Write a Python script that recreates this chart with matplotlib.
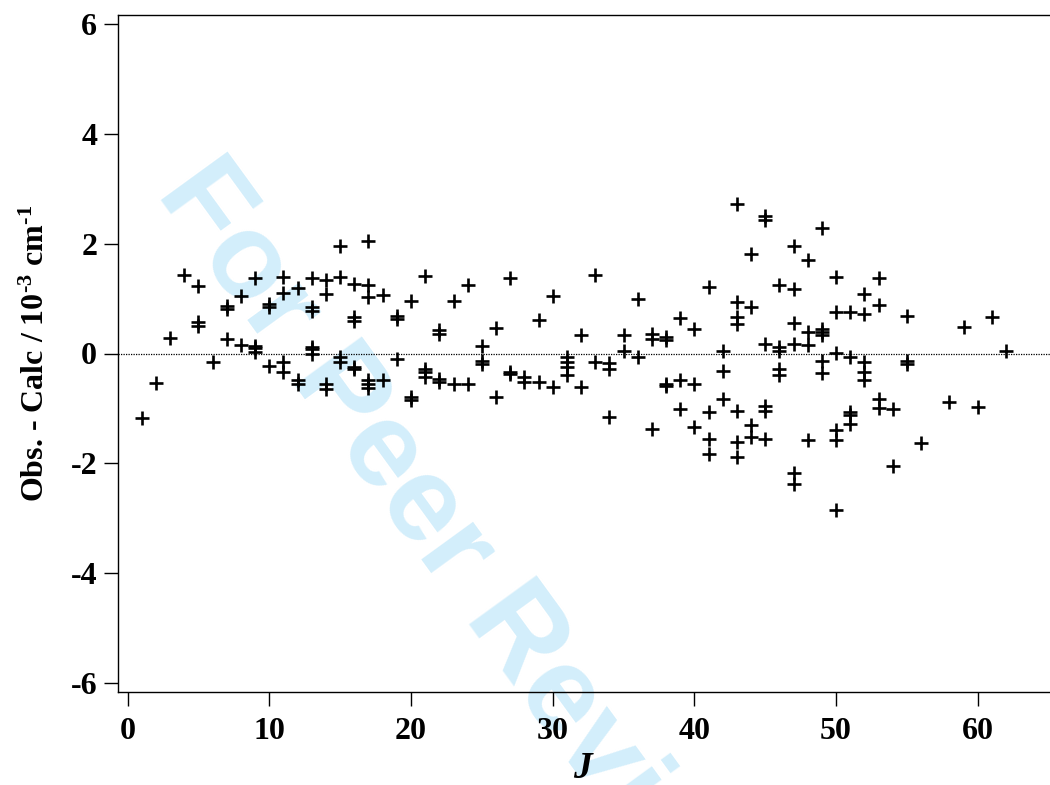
import matplotlib
matplotlib.use("Agg")
import matplotlib.pyplot as plt

# Observed - calculated residuals (10^-3 cm^-1) grouped by J
J_values = [
    1, 2, 3, 4, 5, 5, 5, 6, 7, 7, 7, 8, 8, 9, 9, 9, 9,
    10, 10, 10, 11, 11, 11, 11, 12, 12, 12, 13, 13, 13, 13, 13, 13,
    14, 14, 14, 14, 15, 15, 15, 15, 16, 16, 16, 16, 16,
    17, 17, 17, 17, 17, 17, 18, 18, 19, 19, 19, 20, 20, 20,
    21, 21, 21, 21, 22, 22, 22, 22, 23, 23, 24, 24, 25, 25, 25,
    26, 26, 27, 27, 27, 28, 28, 29, 29, 30, 30, 31, 31, 31, 31,
    32, 32, 33, 33, 34, 34, 34, 35, 35, 36, 36, 37, 37, 37,
    38, 38, 38, 38, 39, 39, 39, 40, 40, 40, 41, 41, 41, 41,
    42, 42, 42, 43, 43, 43, 43, 43, 43, 43, 44, 44, 44, 44,
    45, 45, 45, 45, 45, 45, 46, 46, 46, 46, 46,
    47, 47, 47, 47, 47, 47, 48, 48, 48, 48,
    49, 49, 49, 49, 49, 49, 50, 50, 50, 50, 50, 50,
    51, 51, 51, 51, 51, 52, 52, 52, 52, 52, 53, 53, 53, 53,
    54, 54, 55, 55, 55, 56, 58, 59, 60, 61, 62,
]
residuals = [
    -1.17, -0.53, 0.29, 1.42, 1.22, 0.57, 0.50, -0.15, 0.87, 0.81, 0.27, 1.05, 0.16, 1.37, 0.13, 0.02, 0.10,
    0.90, 0.85, -0.22, 1.39, 1.11, -0.16, -0.34, 1.19, -0.49, -0.55, 1.38, 0.84, 0.78, 0.08, -0.01, 0.12,
    1.33, 1.09, -0.55, -0.64, 1.96, 1.40, -0.07, -0.16, 1.27, 0.66, 0.60, -0.25, -0.28,
    2.05, 1.24, 1.02, -0.49, -0.55, -0.62, 1.07, -0.48, 0.69, 0.63, -0.10, 0.95, -0.79, -0.85,
    1.41, -0.28, -0.34, -0.43, 0.42, 0.36, -0.46, -0.52, 0.96, -0.55, 1.24, -0.55, 0.13, -0.13, -0.19,
    0.46, -0.79, 1.37, -0.34, -0.37, -0.43, -0.52, 0.61, -0.52, 1.04, -0.61, -0.07, -0.16, -0.25, -0.40,
    0.33, -0.61, 1.43, -0.16, -0.18, -0.28, -1.16, 0.34, 0.05, 0.99, -0.07, 0.36, 0.27, -1.37,
    0.30, 0.25, -0.55, -0.60, 0.64, -0.49, -1.01, 0.45, -0.56, -1.34, 1.21, -1.07, -1.55, -1.82,
    0.05, -0.31, -0.82, 2.72, 0.93, 0.66, 0.53, -1.04, -1.61, -1.89, 1.81, 0.85, -1.31, -1.52,
    2.51, 2.43, 0.18, -0.95, -1.04, -1.55, 1.25, 0.12, 0.05, -0.28, -0.40,
    1.96, 1.18, 0.55, 0.18, -2.17, -2.37, 1.71, 0.39, 0.15, -1.58,
    2.28, 0.45, 0.39, 0.33, -0.13, -0.36, 1.39, 0.75, 0.01, -1.40, -1.58, -2.85,
    0.75, -0.07, -1.07, -1.12, -1.28, 1.09, 0.72, -0.16, -0.34, -0.49, 1.37, 0.89, -0.82, -0.99,
    -1.01, -2.05, 0.69, -0.13, -0.19, -1.63, -0.88, 0.48, -0.98, 0.67, 0.04,
]
x_ticks = [0, 10, 20, 30, 40, 50, 60]
y_ticks = [-6, -4, -2, 0, 2, 4, 6]

plt.rcParams['font.family'] = ['Liberation Serif', 'DejaVu Serif']
plt.rcParams['axes.unicode_minus'] = False
plt.rcParams['mathtext.fontset'] = 'custom'
plt.rcParams['mathtext.rm'] = 'Liberation Serif:bold'
plt.rcParams['mathtext.it'] = 'Liberation Serif:italic:bold'
plt.rcParams['mathtext.bf'] = 'Liberation Serif:bold'

W, H = 1050, 785
fig = plt.figure(figsize=(W / 100, H / 100), dpi=100)
ax = fig.add_axes([118 / W, 1 - 692 / H, (W - 118) / W, (692 - 15) / H])
ax.set_facecolor('none')

# watermark
fig.text(155 / W, 1 - 193 / H, "For Peer Review", rotation=-54,
         rotation_mode='anchor', fontsize=87, fontweight='bold',
         color='#d3eefb', family='Liberation Sans',
         ha='left', va='baseline', zorder=-1)

ax.axhline(0, color='black', lw=0.9, ls=(0, (1, 1)), zorder=1)
ax.plot(J_values, residuals, ls='none', marker='+', ms=10.5, mew=1.9,
        color='black', zorder=3)

ax.set_xlim(-0.68, 65.1)
ax.set_ylim(-6.16, 6.16)
ax.set_xticks(x_ticks)
ax.set_yticks(y_ticks)
ax.tick_params(direction='out', length=10, width=1.0, labelsize=23)
ax.tick_params(axis='y', pad=5)
ax.tick_params(axis='x', pad=8)
for lab in ax.get_xticklabels() + ax.get_yticklabels():
    lab.set_fontweight('bold')

ax.spines['right'].set_visible(False)
for s in ['left', 'bottom', 'top']:
    ax.spines[s].set_linewidth(1.0)

ax.set_xlabel(r"$\mathit{J}$", fontsize=27, labelpad=4)
ax.set_ylabel("Obs. - Calc / 10$^{\\mathbf{\u20103}}$ cm$^{\\mathbf{\u20101}}$",
              fontsize=23, fontweight='bold', labelpad=14)

fig.savefig("out.png", dpi=100)
